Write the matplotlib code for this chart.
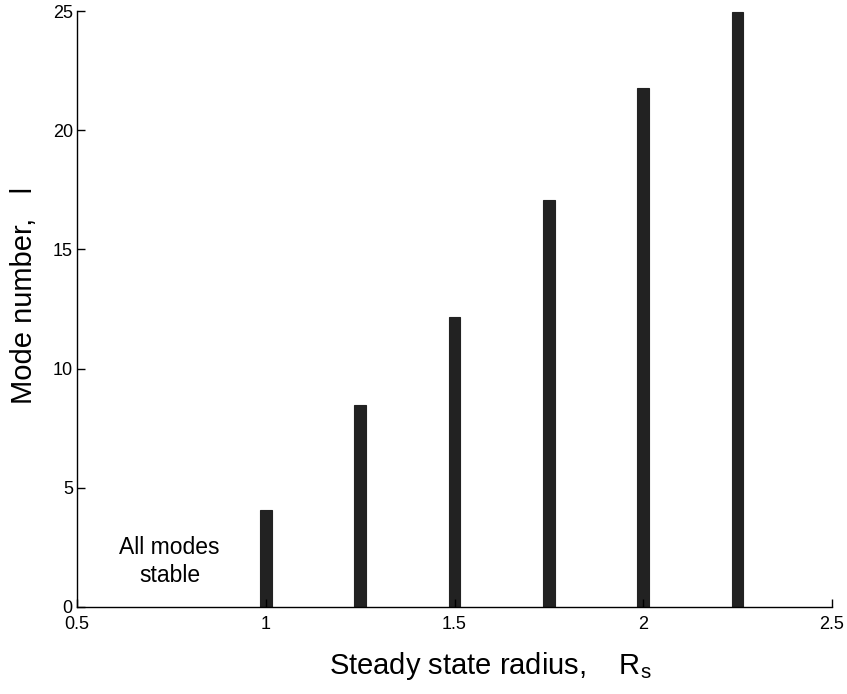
import matplotlib.pyplot as plt

plt.rcParams['font.family'] = ['Liberation Sans', 'DejaVu Sans']

# steady state radius vs mode number where instability sets in
radius = [1.0, 1.25, 1.5, 1.75, 2.0, 2.25]
mode = [4.07, 8.47, 12.17, 17.07, 21.77, 24.97]
xticks = [0.5, 1, 1.5, 2, 2.5]
yticks = [0, 5, 10, 15, 20, 25]

fig = plt.figure(figsize=(8.47, 6.94), dpi=100)
ax = fig.add_axes([0.0909, 0.1254, 0.8914, 0.8587])

ax.bar(radius, mode, width=0.031, color='#222222', edgecolor='#222222', linewidth=0.8)

ax.set_xlim(0.5, 2.5)
ax.set_ylim(0, 25)
ax.set_xticks(xticks)
ax.set_xticklabels(['0.5', '1', '1.5', '2', '2.5'])
ax.set_yticks(yticks)
ax.tick_params(direction='in', length=6, width=1, labelsize=13)
ax.tick_params(axis='x', pad=6.5)
ax.tick_params(axis='y', pad=3)
ax.spines['top'].set_visible(False)
ax.spines['right'].set_visible(False)
ax.spines['left'].set_linewidth(1)
ax.spines['bottom'].set_linewidth(1)

ax.text(0.745, 1.9, 'All modes\nstable', ha='center', va='center', fontsize=16.5, linespacing=1.3)

ax.set_xlabel('Steady state radius,    R$_\\mathregular{s}$', fontsize=21)
ax.set_ylabel('Mode number,   l', fontsize=21)
ax.xaxis.set_label_coords(0.548, -0.072)
ax.yaxis.set_label_coords(-0.052, 0.5235)

fig.savefig('out.png', dpi=100)
